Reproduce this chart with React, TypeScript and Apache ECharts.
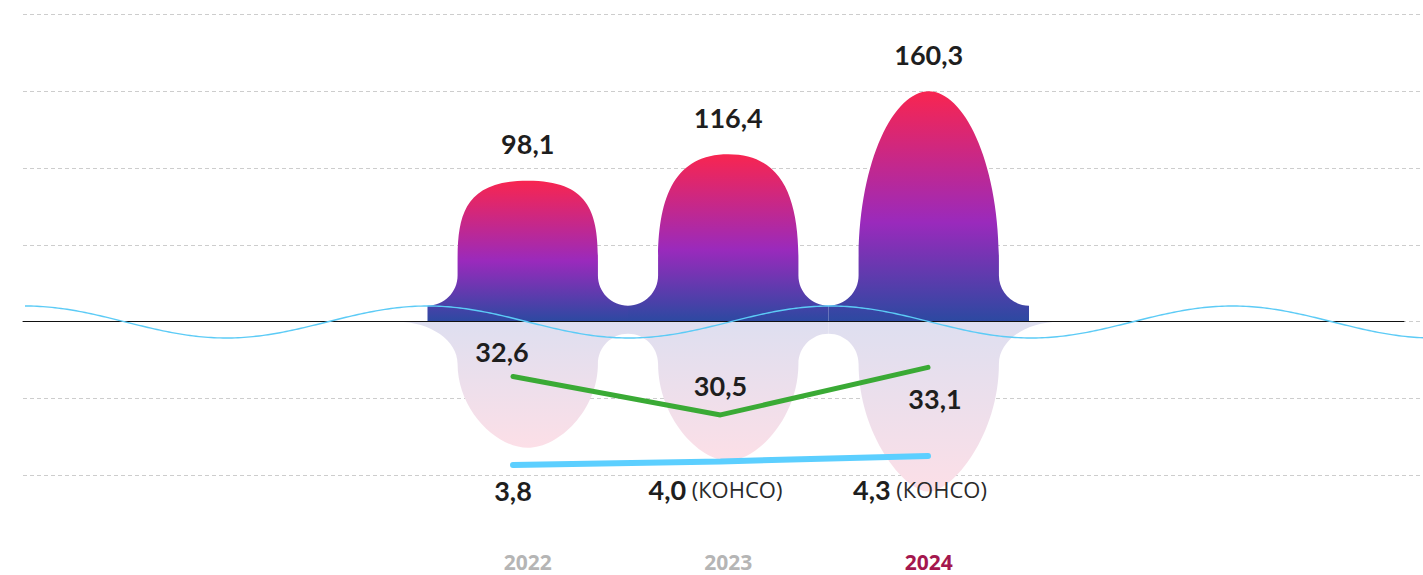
import React, { useEffect, useRef } from 'react';
import * as echarts from 'echarts';

const years = ['2022', '2023', '2024'];
const mainValues = [98.1, 116.4, 160.3];
const greenValues = [32.6, 30.5, 33.1];
const blueValues = [3.8, 4.0, 4.3];
const blueNotes = ['', '(КОНСО)', '(КОНСО)'];
const greenLabelOffsets = [[-11, -25], [0, -29], [7, 31]];
const blueLabelOffsets = [[0, 25], [-5, 28], [-8, 33]];
const yearColors = ['#b5b5b5', '#b5b5b5', '#a4174e'];

const fmt = (v: number) => v.toFixed(1).replace('.', ',');
const clamp = (v: number, a: number, b: number) => Math.max(a, Math.min(b, v));

function barPath(cx: number, bw: number, y0: number, top: number) {
  const yb = y0 - 16;
  const hw = bw * 0.35;
  const r = bw / 2 - hw;
  const L = cx - bw / 2, R = cx + bw / 2;
  const a = cx - hw, b = cx + hw;
  const h = yb - top;
  const capH = Math.max(10, h - 45);
  const ys = top + capH;
  const kt = clamp(0.9 - (h - 124) * 0.0044, 0.45, 0.9);
  const ks = 0.58;
  const k = 0.552;
  return [
    `M${L},${y0}`, `L${L},${yb}`,
    `C${L + k * r},${yb} ${a},${yb - r + k * r} ${a},${yb - r}`,
    `L${a},${ys}`,
    `C${a},${ys - ks * capH} ${cx - kt * hw},${top} ${cx},${top}`,
    `C${cx + kt * hw},${top} ${b},${ys - ks * capH} ${b},${ys}`,
    `L${b},${yb - r}`,
    `C${b},${yb - r + k * r} ${R - k * r},${yb} ${R},${yb}`,
    `L${R},${y0}`, 'Z',
  ].join(' ');
}

function reflPath(cx: number, bw: number, y0: number, top: number, outerLeft: boolean, outerRight: boolean) {
  const H = y0 - top;
  const D = 0.49 * H + 57;
  const g = 12;
  const hw = bw * 0.35, r = bw / 2 - hw;
  const L = cx - bw / 2, R = cx + bw / 2, a = cx - hw, b = cx + hw;
  const yg = y0 + g, yf = yg + r, yB = y0 + D;
  const cB = yB - yf;
  const kt = clamp(0.45 - (D - 125) * 0.0022, 0.3, 0.5);
  const ks = 0.55, k = 0.552;
  const p: string[] = [];
  if (outerLeft) {
    p.push(`M${L - r},${y0}`, `C${L + 0.1 * r},${y0} ${a},${y0 + 0.45 * (yf - y0)} ${a},${yf}`);
  } else {
    p.push(`M${L},${y0}`, `L${L},${yg}`, `C${L + k * r},${yg} ${a},${yf - k * r} ${a},${yf}`);
  }
  p.push(`C${a},${yf + ks * cB} ${cx - kt * hw},${yB} ${cx},${yB}`);
  p.push(`C${cx + kt * hw},${yB} ${b},${yf + ks * cB} ${b},${yf}`);
  if (outerRight) {
    p.push(`C${b},${y0 + 0.45 * (yf - y0)} ${R - 0.1 * r},${y0} ${R + r},${y0}`);
  } else {
    p.push(`C${b},${yf - k * r} ${R - k * r},${yg} ${R},${yg}`, `L${R},${y0}`);
  }
  p.push('Z');
  return p.join(' ');
}

function wavePoints() {
  const pts: number[][] = [];
  for (let x = 25; x <= 1423; x += 3) {
    pts.push([x, 322 - 16 * Math.cos((2 * Math.PI * (x - 25)) / 402.5)]);
  }
  return pts;
}

const Y_MIN = -107;
const Y_MAX = 214;
const GRID_TOP = 14;
const GRID_H = 461.5;

export default function App() {
  const ref = useRef<HTMLDivElement>(null);
  useEffect(() => {
    if (!ref.current) return;
    const chart = echarts.init(ref.current, null, { renderer: 'svg' });
    const barGrad = () =>
      new echarts.graphic.LinearGradient(0, 0, 0, 1, [
        { offset: 0, color: '#f82550' },
        { offset: 0.57, color: '#9a2abc' },
        { offset: 1, color: '#2c49a1' },
      ]);
    const reflGrad = () =>
      new echarts.graphic.LinearGradient(0, 0, 0, 1, [
        { offset: 0, color: '#dedff0' },
        { offset: 1, color: '#fcdfe7' },
      ]);
    const labelRich = {
      b: { fontFamily: 'Lato', fontWeight: 'bold', fontSize: 27, color: '#1e1e1e' },
      n: { fontFamily: 'Open Sans', fontSize: 22, color: '#2a2a2a' },
    };
    const option: any = {
      animation: false,
      grid: [
        { left: 23, right: 0, top: GRID_TOP, height: GRID_H },
        { left: 427.5, width: 601.5, top: GRID_TOP, height: GRID_H },
        { left: 513, width: 415, top: GRID_TOP, height: GRID_H },
        { left: 23, width: 1381, top: GRID_TOP, height: GRID_H },
      ],
      xAxis: [
        { gridIndex: 0, type: 'value', min: 0, max: 1, show: false },
        {
          gridIndex: 1, type: 'category', data: years,
          axisLine: { show: false }, axisTick: { show: false },
          axisLabel: {
            margin: 76, fontFamily: 'Open Sans', fontWeight: 'bold', fontSize: 21,
            color: (_v: any, i: number) => yearColors[i],
          },
        },
        { gridIndex: 2, type: 'category', data: years, boundaryGap: false, show: false },
        {
          gridIndex: 3, type: 'value', min: 0, max: 1, show: true, z: 6,
          axisLine: { show: true, onZero: true, lineStyle: { color: '#111', width: 1 } },
          axisTick: { show: false }, axisLabel: { show: false }, splitLine: { show: false },
        },
      ],
      yAxis: [
        {
          gridIndex: 0, type: 'value', min: Y_MIN, max: Y_MAX, interval: 53.5,
          axisLine: { show: false }, axisTick: { show: false }, axisLabel: { show: false },
          splitLine: { show: true, lineStyle: { color: '#cdcdcd', type: [4, 3], width: 1 } },
        },
        { gridIndex: 1, type: 'value', min: Y_MIN, max: Y_MAX, show: false, splitLine: { show: false } },
        { gridIndex: 2, type: 'value', min: 27.19, max: 52.41, show: false, splitLine: { show: false } },
        { gridIndex: 2, type: 'value', min: 3.217, max: 28.856, show: false, splitLine: { show: false } },
        { gridIndex: 3, type: 'value', min: Y_MIN, max: Y_MAX, show: false, splitLine: { show: false } },
      ],
      series: [
        {
          type: 'custom', name: 'reflection', xAxisIndex: 1, yAxisIndex: 1, z: 1,
          data: mainValues.map((v, i) => [i, v]),
          encode: { x: 0, y: 1 },
          renderItem: (params: any, api: any) => {
            const i = api.value(0);
            const v = api.value(1);
            const [cx, y0] = api.coord([i, 0]);
            const top = api.coord([i, v])[1];
            const bw = api.size([1, 0])[0];
            return {
              type: 'path',
              shape: { pathData: reflPath(cx, bw, y0, top, i === 0, i === years.length - 1) },
              style: { fill: reflGrad() },
            };
          },
        },
        {
          type: 'custom', name: 'bars', xAxisIndex: 1, yAxisIndex: 1, z: 3,
          data: mainValues.map((v, i) => [i, v]),
          encode: { x: 0, y: 1 },
          renderItem: (params: any, api: any) => {
            const i = api.value(0);
            const v = api.value(1);
            const [cx, y0] = api.coord([i, 0]);
            const top = api.coord([i, v])[1];
            const bw = api.size([1, 0])[0];
            return {
              type: 'group',
              children: [
                { type: 'path', shape: { pathData: barPath(cx, bw, y0, top) }, style: { fill: barGrad() } },
                {
                  type: 'text', x: cx, y: top - 37,
                  style: {
                    text: fmt(v), fill: '#1e1e1e', fontFamily: 'Lato', fontWeight: 'bold', fontSize: 27,
                    align: 'center', verticalAlign: 'middle',
                  },
                },
              ],
            };
          },
        },
        {
          type: 'line', name: 'green', xAxisIndex: 2, yAxisIndex: 2, z: 5,
          data: greenValues.map((v, i) => ({ value: v, label: { offset: greenLabelOffsets[i] } })),
          lineStyle: { color: '#3aaa35', width: 5, cap: 'round' },
          symbol: 'circle', symbolSize: 2, itemStyle: { color: '#3aaa35' },
          label: {
            show: true, position: 'inside',
            formatter: (p: any) => `{b|${fmt(p.value)}}`,
            rich: labelRich,
          },
        },
        {
          type: 'line', name: 'blue', xAxisIndex: 2, yAxisIndex: 3, z: 5,
          data: blueValues.map((v, i) => ({ value: v, label: { offset: blueLabelOffsets[i] } })),
          lineStyle: { color: '#5ccfff', width: 6, cap: 'round' },
          symbol: 'circle', symbolSize: 2, itemStyle: { color: '#5ccfff' },
          label: {
            show: true, position: 'inside',
            formatter: (p: any) =>
              blueNotes[p.dataIndex] ? `{b|${fmt(p.value)}} {n|${blueNotes[p.dataIndex]}}` : `{b|${fmt(p.value)}}`,
            rich: labelRich,
            fontSize: 21, fontFamily: 'Open Sans',
          },
        },
      ],
      graphic: [
        {
          type: 'polyline', z: 100, silent: true,
          shape: { points: wavePoints(), smooth: 0 },
          style: { stroke: '#5ccbf6', lineWidth: 1.4, fill: 'none' },
        },
      ],
    };
    chart.setOption(option);
    return () => chart.dispose();
  }, []);
  return <div ref={ref} style={{ position: 'absolute', left: 0, top: 0, width: 1423, height: 575 }} />;
}
